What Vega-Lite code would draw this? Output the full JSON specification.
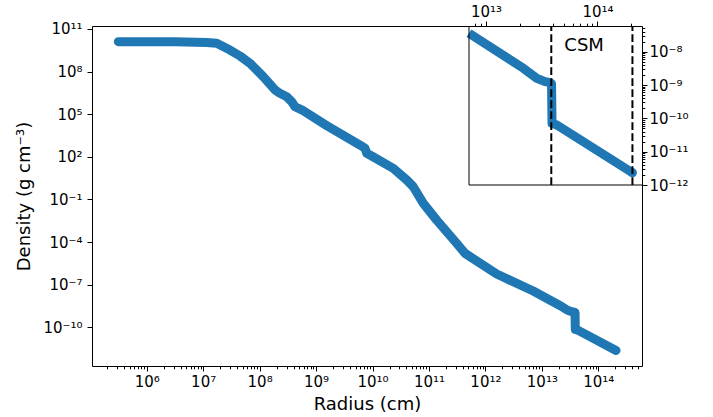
{
  "$schema": "https://vega.github.io/schema/vega-lite/v6.json",
  "width": 550,
  "height": 340,
  "autosize": {"type": "none"},
  "padding": {"left": 92, "top": 26, "right": 71, "bottom": 51},
  "background": "white",
  "config": {
    "font": "DejaVu Sans",
    "view": {"stroke": "black", "strokeWidth": 1},
    "axis": {
      "labelFont": "DejaVu Sans",
      "titleFont": "DejaVu Sans",
      "labelFontSize": 15,
      "titleFontSize": 18,
      "titleFontWeight": "normal",
      "labelColor": "black",
      "titleColor": "black",
      "tickColor": "black",
      "tickWidth": 1,
      "domain": false,
      "grid": false,
      "labelFlush": false,
      "labelOverlap": false,
      "labelBound": false
    }
  },
  "datasets": {
    "profile": [
      {"r": 3.14e5, "rho": 1.288e10},
      {"r": 3.16e6, "rho": 1.288e10},
      {"r": 1.148e7, "rho": 1.122e10},
      {"r": 1.738e7, "rho": 9.84e9},
      {"r": 2.99e7, "rho": 3.31e9},
      {"r": 4.50e7, "rho": 1.256e9},
      {"r": 6.76e7, "rho": 3.85e8},
      {"r": 1.164e8, "rho": 4.38e7},
      {"r": 1.884e8, "rho": 5.01e6},
      {"r": 2.29e8, "rho": 2.95e6},
      {"r": 3.02e8, "rho": 1.698e6},
      {"r": 3.71e8, "rho": 7.59e5},
      {"r": 4.24e8, "rho": 3.39e5},
      {"r": 5.94e8, "rho": 1.778e5},
      {"r": 1.545e9, "rho": 1.585e4},
      {"r": 6.01e9, "rho": 676},
      {"r": 7.36e9, "rho": 398},
      {"r": 7.89e9, "rho": 178},
      {"r": 9.68e9, "rho": 115},
      {"r": 2.333e10, "rho": 15.5},
      {"r": 4.04e10, "rho": 2.34},
      {"r": 5.28e10, "rho": 0.783},
      {"r": 7.94e10, "rho": 0.0531},
      {"r": 1.371e11, "rho": 3.54e-3},
      {"r": 3.10e11, "rho": 8.09e-5},
      {"r": 4.36e11, "rho": 1.6e-5},
      {"r": 1.585e12, "rho": 5.62e-7},
      {"r": 7.03e12, "rho": 3.57e-8},
      {"r": 2.163e13, "rho": 3.18e-9},
      {"r": 2.858e13, "rho": 1.589e-9},
      {"r": 3.39e13, "rho": 1.259e-9},
      {"r": 3.76e13, "rho": 1.175e-9},
      {"r": 3.87e13, "rho": 1.096e-9},
      {"r": 3.91e13, "rho": 7.08e-11},
      {"r": 4.32e13, "rho": 6.31e-11},
      {"r": 2.06e14, "rho": 2.34e-12}
    ],
    "csm": [{"r": 3.85e13}, {"r": 2.06e14}]
  },
  "layer": [
    {
      "data": {"name": "profile"},
      "mark": {"type": "line", "color": "#1f77b4", "strokeWidth": 9, "strokeCap": "round", "strokeJoin": "round"},
      "encoding": {
        "x": {
          "field": "r", "type": "quantitative",
          "scale": {"type": "log", "domain": [1.074e5, 5.94e14], "nice": false},
          "axis": {
            "orient": "bottom",
            "title": "Radius (cm)",
            "titlePadding": 6,
            "labelPadding": 3,
            "values": [2e5,3e5,4e5,5e5,6e5,7e5,8e5,9e5,1e6,2e6,3e6,4e6,5e6,6e6,7e6,8e6,9e6,1e7,2e7,3e7,4e7,5e7,6e7,7e7,8e7,9e7,1e8,2e8,3e8,4e8,5e8,6e8,7e8,8e8,9e8,1e9,2e9,3e9,4e9,5e9,6e9,7e9,8e9,9e9,1e10,2e10,3e10,4e10,5e10,6e10,7e10,8e10,9e10,1e11,2e11,3e11,4e11,5e11,6e11,7e11,8e11,9e11,1e12,2e12,3e12,4e12,5e12,6e12,7e12,8e12,9e12,1e13,2e13,3e13,4e13,5e13,6e13,7e13,8e13,9e13,1e14,2e14,3e14,4e14,5e14],
            "tickSize": {"condition": {"test": "abs(log(datum.value)/LN10 - round(log(datum.value)/LN10)) < 0.001", "value": 5}, "value": 2.8},
            "labelExpr": "abs(log(datum.value)/LN10 - round(log(datum.value)/LN10)) < 0.001 ? ['10⁻¹²','10⁻¹¹','10⁻¹⁰','10⁻⁹','10⁻⁸','10⁻⁷','10⁻⁶','10⁻⁵','10⁻⁴','10⁻³','10⁻²','10⁻¹','10⁰','10¹','10²','10³','10⁴','10⁵','10⁶','10⁷','10⁸','10⁹','10¹⁰','10¹¹','10¹²','10¹³','10¹⁴'][round(log(datum.value)/LN10)+12] : ''"
          }
        },
        "y": {
          "field": "rho", "type": "quantitative",
          "scale": {"type": "log", "domain": [1.884e-13, 1.626e11], "nice": false},
          "axis": {
            "orient": "left",
            "title": "Density (g cm⁻³)",
            "titlePadding": 9,
            "tickSize": 5,
            "labelPadding": 5,
            "values": [1e11, 1e8, 1e5, 100, 0.1, 1e-4, 1e-7, 1e-10],
            "labelExpr": "['10⁻¹²','10⁻¹¹','10⁻¹⁰','10⁻⁹','10⁻⁸','10⁻⁷','10⁻⁶','10⁻⁵','10⁻⁴','10⁻³','10⁻²','10⁻¹','10⁰','10¹','10²','10³','10⁴','10⁵','10⁶','10⁷','10⁸','10⁹','10¹⁰','10¹¹','10¹²','10¹³','10¹⁴'][round(log(datum.value)/LN10)+12]"
          }
        }
      }
    },
    {
      "data": {"name": "profile"},
      "transform": [{"filter": "datum.r >= 7e12"}],
      "mark": {"type": "line", "color": "#1f77b4", "strokeWidth": 9, "strokeCap": "butt", "strokeJoin": "round"},
      "encoding": {
        "x": {
          "field": "r", "type": "quantitative",
          "scale": {"type": "log", "domain": [7.03e12, 2.51e14], "range": [377, 550], "nice": false},
          "axis": {
            "orient": "top",
            "title": null,
            "labelPadding": 2,
            "values": [8e12,9e12,1e13,2e13,3e13,4e13,5e13,6e13,7e13,8e13,9e13,1e14,2e14],
            "tickSize": {"condition": {"test": "abs(log(datum.value)/LN10 - round(log(datum.value)/LN10)) < 0.001", "value": 5}, "value": 2.8},
            "labelExpr": "abs(log(datum.value)/LN10 - round(log(datum.value)/LN10)) < 0.001 ? ['10⁻¹²','10⁻¹¹','10⁻¹⁰','10⁻⁹','10⁻⁸','10⁻⁷','10⁻⁶','10⁻⁵','10⁻⁴','10⁻³','10⁻²','10⁻¹','10⁰','10¹','10²','10³','10⁴','10⁵','10⁶','10⁷','10⁸','10⁹','10¹⁰','10¹¹','10¹²','10¹³','10¹⁴'][round(log(datum.value)/LN10)+12] : ''"
          }
        },
        "y": {
          "field": "rho", "type": "quantitative",
          "scale": {"type": "log", "domain": [1e-12, 5.91e-8], "range": [159, 0], "nice": false},
          "axis": {
            "orient": "right",
            "title": null,
            "labelPadding": 2,
            "values": [1e-12,2e-12,3e-12,4e-12,5e-12,6e-12,7e-12,8e-12,9e-12,1e-11,2e-11,3e-11,4e-11,5e-11,6e-11,7e-11,8e-11,9e-11,1e-10,2e-10,3e-10,4e-10,5e-10,6e-10,7e-10,8e-10,9e-10,1e-9,2e-9,3e-9,4e-9,5e-9,6e-9,7e-9,8e-9,9e-9,1e-8,2e-8,3e-8,4e-8,5e-8],
            "tickSize": {"condition": {"test": "abs(log(datum.value)/LN10 - round(log(datum.value)/LN10)) < 0.001", "value": 5}, "value": 2.8},
            "labelExpr": "abs(log(datum.value)/LN10 - round(log(datum.value)/LN10)) < 0.001 ? ['10⁻¹²','10⁻¹¹','10⁻¹⁰','10⁻⁹','10⁻⁸','10⁻⁷','10⁻⁶','10⁻⁵','10⁻⁴','10⁻³','10⁻²','10⁻¹','10⁰','10¹','10²','10³','10⁴','10⁵','10⁶','10⁷','10⁸','10⁹','10¹⁰','10¹¹','10¹²','10¹³','10¹⁴'][round(log(datum.value)/LN10)+12] : ''"
          }
        }
      }
    },
    {
      "data": {"name": "profile"},
      "transform": [{"filter": "datum.r > 1e14"}],
      "mark": {"type": "point", "filled": true, "size": 81, "color": "#1f77b4", "opacity": 1},
      "encoding": {
        "x": {"field": "r", "type": "quantitative", "scale": {"type": "log", "domain": [7.03e12, 2.51e14], "range": [377, 550], "nice": false}, "axis": null},
        "y": {"field": "rho", "type": "quantitative", "scale": {"type": "log", "domain": [1e-12, 5.91e-8], "range": [159, 0], "nice": false}, "axis": null}
      }
    },
    {
      "data": {"name": "csm"},
      "mark": {"type": "rule", "color": "black", "strokeWidth": 2, "strokeDash": [7.7, 3.3]},
      "encoding": {
        "x": {"field": "r", "type": "quantitative", "scale": {"type": "log", "domain": [7.03e12, 2.51e14], "range": [377, 550], "nice": false}, "axis": null},
        "y": {"datum": 1e-12, "type": "quantitative", "scale": {"type": "log", "domain": [1e-12, 5.91e-8], "range": [159, 0], "nice": false}, "axis": null},
        "y2": {"datum": 5.91e-8}
      }
    },
    {
      "data": {"values": [{}]},
      "mark": {"type": "rule", "color": "black", "strokeWidth": 1},
      "encoding": {
        "x": {"datum": 7.03e12, "type": "quantitative", "scale": {"type": "log", "domain": [7.03e12, 2.51e14], "range": [377, 550], "nice": false}, "axis": null},
        "y": {"datum": 1e-12, "type": "quantitative", "scale": {"type": "log", "domain": [1e-12, 5.91e-8], "range": [159, 0], "nice": false}, "axis": null},
        "y2": {"datum": 5.91e-8}
      }
    },
    {
      "data": {"values": [{}]},
      "mark": {"type": "rule", "color": "black", "strokeWidth": 1},
      "encoding": {
        "x": {"datum": 7.03e12, "type": "quantitative", "scale": {"type": "log", "domain": [7.03e12, 2.51e14], "range": [377, 550], "nice": false}, "axis": null},
        "x2": {"datum": 2.51e14},
        "y": {"datum": 1e-12, "type": "quantitative", "scale": {"type": "log", "domain": [1e-12, 5.91e-8], "range": [159, 0], "nice": false}, "axis": null}
      }
    },
    {
      "data": {"values": [{}]},
      "mark": {"type": "text", "text": "CSM", "fontSize": 18, "align": "center", "baseline": "middle", "color": "black", "font": "DejaVu Sans"},
      "encoding": {
        "x": {"datum": 7.59e13, "type": "quantitative", "scale": {"type": "log", "domain": [7.03e12, 2.51e14], "range": [377, 550], "nice": false}, "axis": null},
        "y": {"datum": 1.48e-8, "type": "quantitative", "scale": {"type": "log", "domain": [1e-12, 5.91e-8], "range": [159, 0], "nice": false}, "axis": null}
      }
    }
  ],
  "resolve": {"scale": {"x": "independent", "y": "independent"}}
}
